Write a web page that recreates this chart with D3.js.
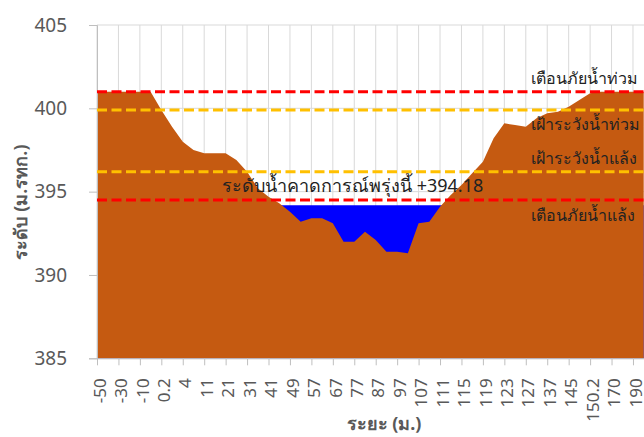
<!DOCTYPE html>
<html>
<head>
<meta charset="utf-8">
<script src="https://cdn.jsdelivr.net/npm/d3@7/dist/d3.min.js"></script>
<style>
    body { margin: 0; background: #fff; }
    svg { display: block; font-family: "Noto Sans", "DejaVu Sans", sans-serif; }
</style>
</head>
<body>
<svg id="chart" width="644" height="437"></svg>
<script>
// distance labels (every second point of the profile carries a label)
var distanceLabels = ["-50", "-30", "-10", "0.2", "4", "11", "21", "31", "41", "49", "57", "67", "77",
    "87", "97", "107", "111", "115", "119", "123", "127", "137", "145", "150.2", "170", "190"];

// ground elevation (ม.รทก.) along the cross section
var elevation = [401.0, 401.0, 401.0, 401.0, 401.0, 401.0, 399.9, 398.9, 398.0, 397.5,
    397.3, 397.3, 397.3, 396.9, 396.2, 395.2, 394.7, 394.3, 393.8, 393.2,
    393.4, 393.4, 393.1, 392.0, 392.0, 392.6, 392.1, 391.4, 391.4, 391.3,
    393.1, 393.2, 394.1, 394.8, 395.4, 396.1, 396.8, 398.2, 399.1, 399.0,
    398.9, 399.4, 399.7, 399.8, 400.1, 400.5, 400.9, 401.0, 401.0, 401.0,
    401.0, 401.0];

// forecast water level for tomorrow
var waterLevel = 394.18;

// warning / watch levels
var levelNames = ["เตือนภัยน้ำท่วม", "เฝ้าระวังน้ำท่วม", "เฝ้าระวังน้ำแล้ง", "เตือนภัยน้ำแล้ง"];
var levelValues = [401.0, 399.9, 396.2, 394.5];

var yTicks = [385, 390, 395, 400, 405];

var svg = d3.select("#chart"),
    plotLeft = 97, plotTop = 25, plotRight = 643.7, plotBottom = 358.3;

var x = d3.scaleLinear()
    .domain([0, elevation.length - 1])
    .range([plotLeft, plotRight]);

var y = d3.scaleLinear()
    .domain([385, 405])
    .range([plotBottom, plotTop]);

var labelIdx = distanceLabels.map(function (d, i) { return i * 2; });

// gridlines
svg.append("g")
    .selectAll("line")
    .data(labelIdx)
    .enter().append("line")
    .attr("x1", function (d) { return x(d); })
    .attr("x2", function (d) { return x(d); })
    .attr("y1", plotTop)
    .attr("y2", plotBottom)
    .attr("stroke", "#d9d9d9")
    .attr("stroke-width", 1);

svg.append("g")
    .selectAll("line")
    .data(yTicks)
    .enter().append("line")
    .attr("x1", plotLeft)
    .attr("x2", 644)
    .attr("y1", function (d) { return y(d); })
    .attr("y2", function (d) { return y(d); })
    .attr("stroke", "#d9d9d9")
    .attr("stroke-width", 1);

// water, drawn behind the ground
var water = d3.area()
    .x(function (d, i) { return x(i); })
    .y0(y(385))
    .y1(y(waterLevel));

svg.append("path")
    .datum(elevation)
    .attr("d", water)
    .attr("fill", "#0000ff");

// ground
var ground = d3.area()
    .x(function (d, i) { return x(i); })
    .y0(y(385))
    .y1(function (d) { return y(d); });

svg.append("path")
    .datum(elevation)
    .attr("d", ground)
    .attr("fill", "#c55a11");

// axes
var yAxis = svg.append("g")
    .attr("transform", "translate(" + plotLeft + ",0)")
    .call(d3.axisLeft(y).tickValues(yTicks).tickSize(8).tickPadding(22));

yAxis.select(".domain").attr("stroke", "#bfbfbf");
yAxis.selectAll(".tick line").attr("stroke", "#bfbfbf");
yAxis.selectAll(".tick text")
    .attr("fill", "#595959")
    .style("font-size", "19px")
    .style("font-family", "'Noto Sans', 'DejaVu Sans', sans-serif");

var xAxis = svg.append("g")
    .attr("transform", "translate(0," + plotBottom + ")")
    .call(d3.axisBottom(x)
        .tickValues(labelIdx)
        .tickSize(7)
        .tickSizeOuter(0)
        .tickFormat(function (d) { return distanceLabels[d / 2]; }));

xAxis.select(".domain").attr("stroke", "#bfbfbf");
xAxis.selectAll(".tick line").attr("stroke", "#bfbfbf");
xAxis.selectAll(".tick text")
    .attr("fill", "#595959")
    .attr("text-anchor", "end")
    .attr("transform", "translate(0,20) rotate(-90)")
    .attr("x", 0)
    .attr("y", 0)
    .attr("dy", "0.48em")
    .style("font-size", "17px")
    .style("font-family", "'Noto Sans', 'DejaVu Sans', sans-serif");

// level lines
var levelColors = ["#ff0000", "#ffc000", "#ffc000", "#ff0000"];
var labelOffset = [-8, 20, -8, 21];

svg.append("g")
    .selectAll("line")
    .data(levelValues)
    .enter().append("line")
    .attr("x1", plotLeft)
    .attr("x2", 644)
    .attr("y1", function (d) { return y(d); })
    .attr("y2", function (d) { return y(d); })
    .attr("stroke", function (d, i) { return levelColors[i]; })
    .attr("stroke-width", 3)
    .attr("stroke-dasharray", "10,4.5");

svg.append("g")
    .selectAll("text")
    .data(levelValues)
    .enter().append("text")
    .attr("x", 531)
    .attr("y", function (d, i) { return y(d) + labelOffset[i]; })
    .attr("fill", "#222")
    .style("font-size", "16px")
    .text(function (d, i) { return levelNames[i]; });

// forecast label
svg.append("text")
    .attr("x", 222)
    .attr("y", y(waterLevel) - 13)
    .attr("fill", "#222")
    .style("font-size", "18px")
    .text("ระดับน้ำคาดการณ์พรุ่งนี้ +" + waterLevel.toFixed(2));

// axis titles
svg.append("text")
    .attr("transform", "translate(27,202) rotate(-90)")
    .attr("text-anchor", "middle")
    .attr("fill", "#595959")
    .style("font-size", "18px")
    .style("font-weight", "bold")
    .text("ระดับ (ม.รทก.)");

svg.append("text")
    .attr("x", 384)
    .attr("y", 430)
    .attr("text-anchor", "middle")
    .attr("fill", "#595959")
    .style("font-size", "18px")
    .style("font-weight", "bold")
    .text("ระยะ (ม.)");
</script>
</body>
</html>
